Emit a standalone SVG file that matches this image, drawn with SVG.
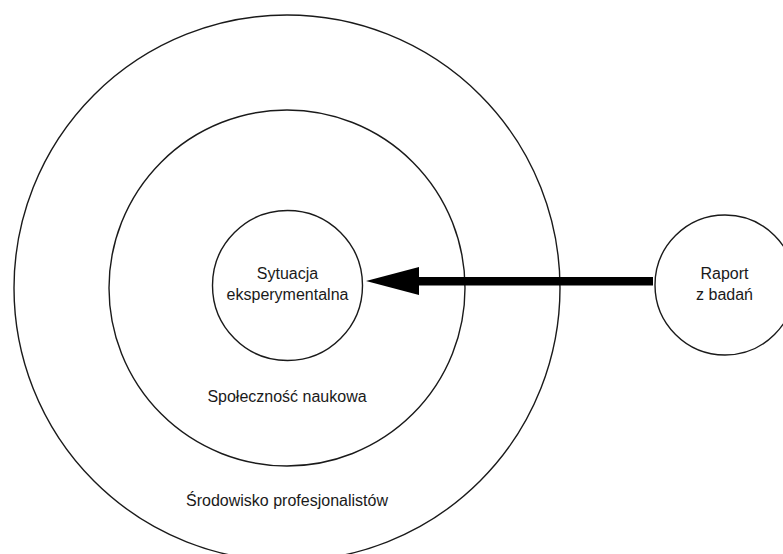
<svg xmlns="http://www.w3.org/2000/svg" width="783" height="554" viewBox="0 0 783 554">
<style>
.c{fill:none;stroke:#1a1a1a;stroke-width:1.4}
.t{font-family:"Liberation Sans",Arial,sans-serif;font-size:16px;fill:#1a1a1a;text-anchor:middle}
</style>
<rect width="783" height="554" fill="#fff"/>
<g id="outer"><circle class="c" cx="287" cy="288" r="273"/><text class="t" x="287" y="506">Środowisko profesjonalistów</text></g>
<g id="middle"><circle class="c" cx="287" cy="288" r="178"/><text class="t" x="287" y="402">Społeczność naukowa</text></g>
<g id="inner"><circle class="c" cx="287.5" cy="285.5" r="75"/><text class="t" x="287.5" y="279">Sytuacja</text><text class="t" x="287.5" y="300">eksperymentalna</text></g>
<g id="raport"><circle class="c" cx="725" cy="285" r="70"/><text class="t" x="724.5" y="279">Raport</text><text class="t" x="724.5" y="300">z badań</text></g>
<g id="connectors"><rect x="418" y="277" width="235" height="8.5" fill="#000"/><polygon points="366,281 419,267 419,295" fill="#000"/></g>
</svg>
